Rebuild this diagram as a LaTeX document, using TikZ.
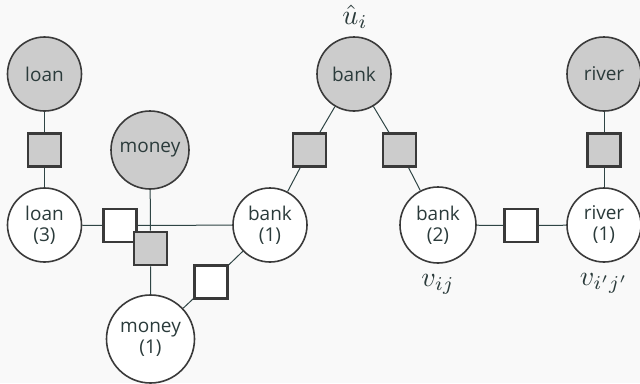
\documentclass[tikz,border=0pt]{standalone}
\usepackage{graphicx}
\usepackage{fontspec}
\setmainfont{Open Sans}
\usetikzlibrary{backgrounds}
\definecolor{bgc}{HTML}{F9F9F9}
\definecolor{txtc}{HTML}{2B3B3B}
\definecolor{obsfill}{HTML}{CCCCCC}
\definecolor{linec}{HTML}{2F4545}
\definecolor{borderc}{HTML}{3A3A3A}
\tikzset{
  var/.style={circle, draw=borderc, line width=1.6pt, fill=white, inner sep=0pt,
    minimum size=74pt, text=txtc, align=center,
    font=\fontsize{19}{21}\selectfont},
  obs/.style={var, fill=obsfill},
  fac/.style={rectangle, draw=borderc, line width=2.6pt, fill=white, inner sep=0pt,
    minimum size=33pt},
  ofac/.style={fac, fill=obsfill},
  conn/.style={draw=linec, line width=1pt},
  lab/.style={inner sep=0pt, text=txtc}
}
\begin{document}
\begin{tikzpicture}[x=1pt,y=-1pt]
\useasboundingbox (0,0) rectangle (640,383);
% observed nodes
\node[obs] (oloan) at (44.5,74) {loan};
\node[obs, minimum size=78pt] (omoney) at (150,150) {money};
\node[obs] (obank) at (354,74) {bank};
\node[obs] (oriver) at (604,74) {river};
% latent nodes
\node[var] (loan3) at (44.5,225) {loan\\(3)};
\node[var] (bank1) at (270,225) {bank\\(1)};
\node[var, minimum size=76pt] (bank2) at (438,225) {bank\\(2)};
\node[var] (river1) at (604,225) {river\\(1)};
\node[var, minimum size=88pt] (money1) at (150.5,339) {money\\(1)};
% factors
\node[ofac] (fl) at (44.5,150) {};
\node[fac] (fa) at (120,225.5) {};
\node[ofac] (fm) at (150.5,248.5) {};
\node[fac] (fc) at (211,282) {};
\node[ofac] (fb1) at (309.5,150) {};
\node[ofac] (fb2) at (399.5,150) {};
\node[fac] (fr) at (521,225.5) {};
\node[ofac] (frv) at (604,150) {};
% labels
\node[lab] (lu) at (355,17) {\scalebox{2.8}{$\hat{u}_i$}};
\node[lab] (lv) at (438,284) {\scalebox{2.8}{$v_{ij}$}};
\node[lab] (lv2) at (604,283) {\scalebox{2.8}{$v_{i'j'}$}};
\begin{scope}[on background layer]
\fill[bgc] (0,0) rectangle (640,383);
\draw[conn] (oloan) -- (fl) -- (loan3);
\draw[conn] (loan3) -- (fa);
\draw[conn] (fa.center) -- (bank1);
\draw[conn] (omoney) -- (fm) -- (money1);
\draw[conn] (bank1) -- (fc) -- (money1);
\draw[conn] (obank) -- (fb1) -- (bank1);
\draw[conn] (obank) -- (fb2) -- (bank2);
\draw[conn] (bank2) -- (fr) -- (river1);
\draw[conn] (oriver) -- (frv) -- (river1);
\end{scope}
\end{tikzpicture}
\end{document}
